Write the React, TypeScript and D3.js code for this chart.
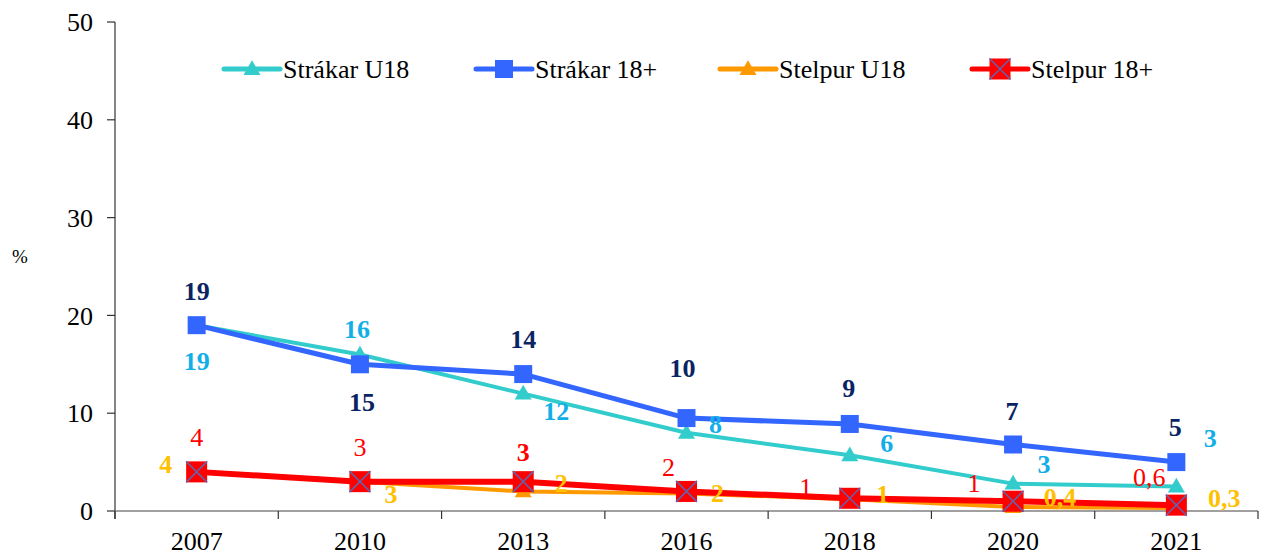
import React from "react";
import * as d3 from "d3";

const years = ["2007", "2010", "2013", "2016", "2018", "2020", "2021"];
const strakarU18 = [19, 16, 12, 8, 5.7, 2.8, 2.5];
const strakar18 = [19, 15, 14, 9.5, 8.9, 6.8, 5.0];
const stelpurU18 = [4, 3, 2, 1.8, 1.2, 0.4, 0.3];
const stelpur18 = [4, 3, 3, 2, 1.3, 1.0, 0.6];
const yTicks = [0, 10, 20, 30, 40, 50];
const seriesNames = ["Strákar U18", "Strákar 18+", "Stelpur U18", "Stelpur 18+"];

// label placement offsets (dx, dy) relative to each point
const offStrakarU18 = [[0, 36], [-3, -26], [33, 17], [29, -9], [37, -12], [31, -20], [34, -49]];
const offStrakar18 = [[0, -34], [2, 38], [0, -35], [-4, -50], [-1, -36], [-1, -34], [-1, -35]];
const offStelpurU18 = [[-31, -8], [31, 12], [38, -9], [31, 0], [33, -5], [47, -10], [48, -10]];
const offStelpur18 = [[0, -35], [0, -35], [0, -30], [-18, -25], [-44, -11], [-39, -18], [-27, -28]];
const boldStelpur18 = [false, false, true, false, false, false, false];

const W = 1269;
const H = 558;
const FONT = '"Liberation Serif", "Times New Roman", Times, serif';

const fmt = (v: number) => (v < 1 ? v.toFixed(1).replace(".", ",") : String(Math.round(v)));

export default function App() {
  const x = d3.scaleBand<string>().domain(years).range([115, 1258]).padding(0);
  const y = d3.scaleLinear().domain([0, 50]).range([511, 22]);
  const cx = (i: number) => (x(years[i]) as number) + x.bandwidth() / 2;
  const line = d3
    .line<number>()
    .x((_, i) => cx(i))
    .y((d) => y(d));

  const tri = d3.symbol().type(d3.symbolTriangle).size(125)() as string;
  const sq = d3.symbol().type(d3.symbolSquare).size(324)() as string;
  const rsq = 21;

  const series = [
    { name: seriesNames[0], data: strakarU18, color: "#33CCCC", width: 4, marker: "tri" },
    { name: seriesNames[1], data: strakar18, color: "#3366FF", width: 5, marker: "sq" },
    { name: seriesNames[2], data: stelpurU18, color: "#FF9900", width: 4, marker: "tri" },
    { name: seriesNames[3], data: stelpur18, color: "#FF0000", width: 6, marker: "xsq" },
  ];

  const marker = (kind: string, color: string, px: number, py: number, key: string) => {
    if (kind === "tri") return <path key={key} d={tri} transform={`translate(${px},${py + 1})`} fill={color} />;
    if (kind === "sq") return <path key={key} d={sq} transform={`translate(${px},${py})`} fill={color} />;
    const h = rsq / 2;
    return (
      <g key={key} transform={`translate(${px},${py})`}>
        <rect x={-h} y={-h} width={rsq} height={rsq} fill="#FF0000" />
        <path d={`M${-h},${-h}L${h},${h}M${-h},${h}L${h},${-h}`} stroke="#6A5FA6" strokeWidth={1.6} />
      </g>
    );
  };

  const labelSets = [
    { data: strakarU18, off: offStrakarU18, color: "#12AEE8", bold: years.map(() => true) },
    { data: strakar18, off: offStrakar18, color: "#0A2463", bold: years.map(() => true) },
    { data: stelpurU18, off: offStelpurU18, color: "#FFC000", bold: years.map(() => true) },
    { data: stelpur18, off: offStelpur18, color: "#FF0000", bold: boldStelpur18 },
  ];

  const legendX = [224, 476, 720, 972];
  const legendY = 69;
  const bandEdges = years.map((yr) => x(yr) as number).concat([1258]);

  return (
    <svg width={W} height={H} style={{ position: "absolute", left: 0, top: 0, background: "#fff", fontFamily: FONT }}>
      {/* y axis */}
      <line x1={115} x2={115} y1={y(50)} y2={y(0) + 8} stroke="#333" strokeWidth={1.2} />
      {yTicks.map((t) => (
        <g key={t}>
          <line x1={107} x2={115} y1={y(t)} y2={y(t)} stroke="#333" strokeWidth={1.2} />
          <text x={93} y={y(t)} dy="0.35em" textAnchor="end" fontSize={26} fill="#000">
            {t}
          </text>
        </g>
      ))}
      <text x={20} y={256} dy="0.35em" textAnchor="middle" fontSize={19} fill="#000">%</text>
      {/* x axis */}
      <line x1={115} x2={1258} y1={y(0)} y2={y(0)} stroke="#808080" strokeWidth={1.5} />
      {bandEdges.map((e, i) => (
        <line key={i} x1={e} x2={e} y1={y(0)} y2={y(0) + 8} stroke="#333" strokeWidth={1.2} />
      ))}
      {years.map((yr, i) => (
        <text key={yr} x={cx(i)} y={550} textAnchor="middle" fontSize={26} fill="#000">
          {yr}
        </text>
      ))}
      {/* lines */}
      {series.map((s) => (
        <path key={s.name} d={line(s.data) as string} fill="none" stroke={s.color} strokeWidth={s.width} strokeLinejoin="round" />
      ))}
      {series.map((s) => s.data.map((v, i) => marker(s.marker, s.color, cx(i), y(v), s.name + i)))}
      {/* labels */}
      {labelSets.map((ls, k) =>
        ls.data.map((v, i) => (
          <text
            key={k + "-" + i}
            x={cx(i) + ls.off[i][0]}
            y={y(v) + ls.off[i][1]}
            dy="0.35em"
            textAnchor="middle"
            fontSize={26}
            fontWeight={ls.bold[i] ? "bold" : "normal"}
            fill={ls.color}
          >
            {fmt(v)}
          </text>
        ))
      )}
      {/* legend */}
      {series.map((s, i) => (
        <g key={"lg" + i}>
          <line x1={legendX[i]} x2={legendX[i] + 56} y1={legendY} y2={legendY} stroke={s.color} strokeWidth={5} strokeLinecap="round" />
          {marker(s.marker, s.color, legendX[i] + 28, legendY, "lm" + i)}
          <text x={legendX[i] + 59} y={legendY} dy="0.35em" fontSize={26} fill="#000">
            {s.name}
          </text>
        </g>
      ))}
    </svg>
  );
}
